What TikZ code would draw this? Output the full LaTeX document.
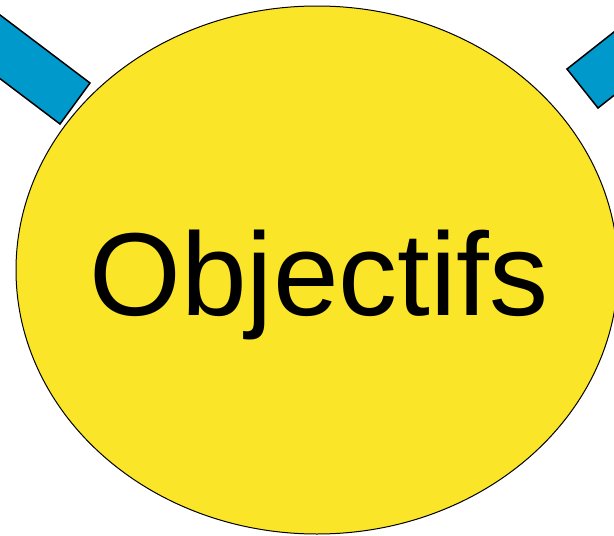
\documentclass[tikz,border=0pt]{standalone}
\usepackage{fontspec}
\setmainfont{Liberation Sans}
\usetikzlibrary{shapes.geometric}
\definecolor{objyellow}{RGB}{251,229,40}
\definecolor{armblue}{RGB}{0,153,204}
\tikzset{
  arm/.style={fill=armblue, draw=black, line width=1.5pt, line join=miter},
  bigellipse/.style={ellipse, draw=black, fill=objyellow, line width=1pt,
    minimum width=602pt, minimum height=528pt, inner sep=0pt},
  title/.style={anchor=base, font=\fontsize{118}{118}\selectfont, inner sep=0pt}
}
\begin{document}
\begin{tikzpicture}[x=1pt,y=-1pt]
\useasboundingbox (0,0) rectangle (614,536);
\clip (0,0) rectangle (614,536);
% left arm
\draw[arm] (90,83) -- (60,124) -- (-100,3) -- (-70,-38) -- cycle;
% right arm
\draw[arm] (567,69) -- (598,108) -- (716,15) -- (685,-24) -- cycle;
\node[bigellipse] (obj) at (317,270) {};
\node[title] (lbl) at (319,315) {Objectifs};
\end{tikzpicture}
\end{document}
